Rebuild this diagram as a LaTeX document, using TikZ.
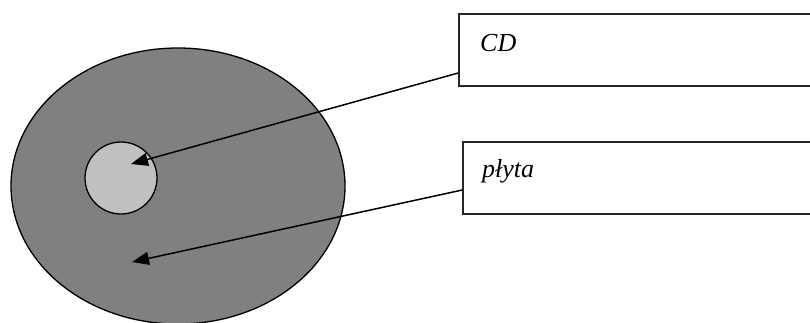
\documentclass[tikz,border=0pt]{standalone}
\usepackage{fontspec}
\setmainfont{Liberation Serif}
\usetikzlibrary{shapes.geometric,arrows.meta}
\definecolor{platter}{HTML}{808080}
\definecolor{hub}{HTML}{C0C0C0}
\tikzset{
  labelbox/.style={draw=black!85, line width=1.6pt, fill=white, rectangle, minimum height=72pt, inner sep=0pt},
  labeltext/.style={font=\fontsize{26}{31}\selectfont\itshape, anchor=base west, inner sep=0pt},
  pointer/.style={line width=1.5pt, -{Triangle[length=17pt, width=13pt]}},
}
\begin{document}
\begin{tikzpicture}[x=1pt, y=-1pt]
\useasboundingbox (0,0) rectangle (810,322);
% disc and centre hub
\node[ellipse, draw, line width=1.3pt, fill=platter, minimum width=334pt, minimum height=276pt, inner sep=0pt] (disc) at (178,186) {};
\node[circle, draw, line width=1.3pt, fill=hub, minimum size=72pt, inner sep=0pt] (cdhole) at (121,178) {};
% label boxes
\node[labelbox, minimum width=353pt] (cdbox) at (635.5,50) {};
\node[labeltext] (cdtext) at (480,51) {CD};
\node[labelbox, minimum width=349pt] (plbox) at (637.5,178) {};
\node[labeltext] (pltext) at (482,177) {płyta};
% pointer targets
\coordinate (cdtip) at (131,164);
\coordinate (pltip) at (132,262);
\draw[pointer] ([yshift=-23pt]cdbox.west) -- (cdtip);
\draw[pointer] ([yshift=-12pt]plbox.west) -- (pltip);
\end{tikzpicture}
\end{document}
